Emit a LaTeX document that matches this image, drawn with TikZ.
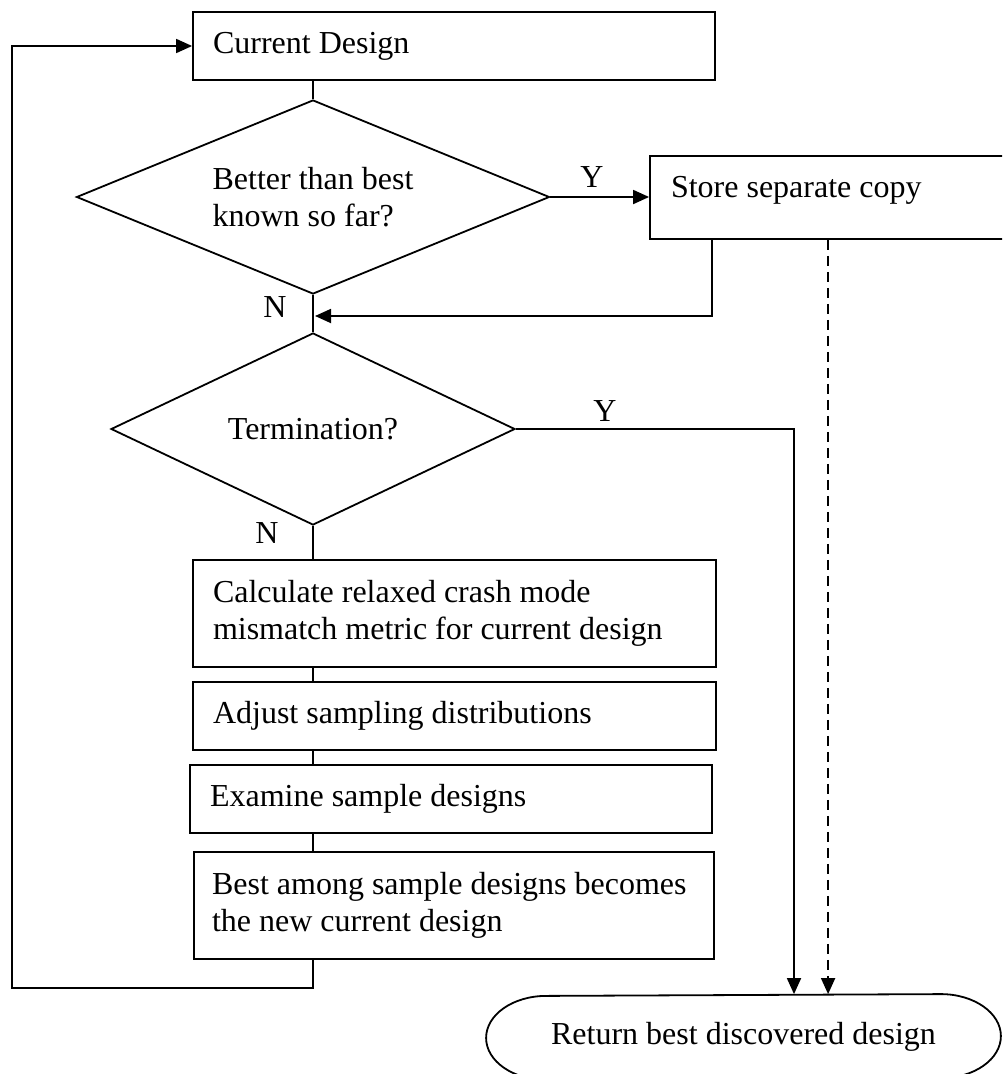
\documentclass[tikz,border=0pt]{standalone}
\usepackage{fontspec}
\setmainfont{Liberation Serif}
\usetikzlibrary{shapes.geometric,arrows.meta}
\begin{document}
\begin{tikzpicture}[x=1pt,y=-1pt,
  line width=1.8pt,
  every node/.style={font=\fontsize{32pt}{37pt}\selectfont},
  box/.style={draw, rectangle, align=flush left, inner xsep=20pt, inner ysep=0pt},
  decision/.style={draw, diamond, inner sep=0pt, align=left},
  arr/.style={-{Triangle[length=16pt,width=14pt]}},
  optional/.style={dash pattern=on 10pt off 6pt},
  tag/.style={anchor=base, inner sep=0pt}
]
\useasboundingbox (0,0) rectangle (1002,1074);
\clip (0,0) rectangle (1002,1074);

% process boxes
\node[box, minimum height=68pt, text width=482pt] (cur) at (454,46) {Current Design};
\node[box, minimum height=83pt, text width=318pt, inner xsep=21pt, text depth=21pt] (store) at (830,197.5) {Store separate copy};
\node[box, minimum height=107pt, text width=483pt] (calc) at (454.5,613.5) {Calculate relaxed crash mode\\mismatch metric for current design};
\node[box, minimum height=68pt, text width=483pt] (adj) at (454.5,716) {Adjust sampling distributions};
\node[box, minimum height=68pt, text width=482pt] (exam) at (451,799) {Examine sample designs};
\node[box, minimum height=107pt, text width=484pt, inner xsep=18pt] (best) at (454,905.5) {Best among sample designs becomes\\the new current design};

% decisions
\node[decision, aspect=2.44, minimum width=473pt, minimum height=194pt] (d1) at (313,197) {Better than best\\known so far?};
\node[decision, aspect=2.1, minimum width=404pt, minimum height=192pt] (d2) at (313,429) {Termination?};

% terminal with elliptical ends
\node[minimum width=513pt, minimum height=84pt, inner sep=0pt] (term) at (743.5,1037) {Return best discovered design};
\draw ([xshift=60pt]term.south west)
  arc[start angle=270, end angle=90, x radius=60pt, y radius=42pt]
  -- ([xshift=-60pt]term.north east)
  arc[start angle=90, end angle=-90, x radius=60pt, y radius=42pt]
  -- cycle;

% main flow
\draw (cur.south -| d1.north) -- (d1.north);
\draw (d1.south) -- (d2.north);
\draw (d2.south) -- (calc.north -| d2.south);
\draw (calc.south -| d2.south) -- (adj.north -| d2.south);
\draw (adj.south -| d2.south) -- (exam.north -| d2.south);
\draw (exam.south -| d2.south) -- (best.north -| d2.south);

% loop back to the current design
\coordinate (loop) at (12,988);
\draw[arr] (best.south -| d2.south) |- (loop) |- (cur.west);

% improvement branch
\draw[arr] (d1.east) -- (d1.east -| store.west);
\coordinate (merge) at (315,316);
\draw[arr] ([xshift=63pt]store.south west) |- (merge);
\coordinate (dashtop) at ([xshift=179pt]store.south west);
\draw[arr, optional] (dashtop) -- (dashtop |- term.north);

% termination branch
\draw[arr] (d2.east) -| ([xshift=50.5pt]term.north);

% branch labels
\node[tag] (y1) at (592,187) {Y};
\node[tag] (n1) at (275,317) {N};
\node[tag] (y2) at (605,421) {Y};
\node[tag] (n2) at (267,543) {N};
\end{tikzpicture}
\end{document}
